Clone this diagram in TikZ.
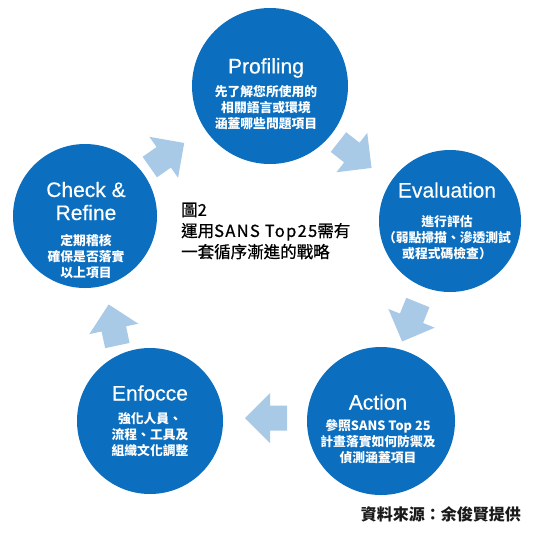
\documentclass[tikz,border=0pt]{standalone}
\usepackage{fontspec}
\setmainfont{Liberation Sans}
\newfontfamily\cjk{Noto Sans CJK TC}
\newfontfamily\cjkmid{Noto Sans CJK TC}[FakeBold=0.8]
\newfontfamily\ttlfont{Liberation Sans}[FakeBold=0.4]
\definecolor{stageblue}{HTML}{0B6EBE}
\definecolor{flowblue}{HTML}{A9CAE7}
\definecolor{inkdark}{HTML}{1A1A1A}
\newcommand\flowarrow[3]{\fill[flow, shift={(#1,#2)}, rotate=#3] (-21,-12.5) -- (-4,-12.5) -- (-4,-25) -- (21,0) -- (-4,25) -- (-4,12.5) -- (-21,12.5) -- cycle;}
\tikzset{
  stage/.style={circle, fill=stageblue, draw=none, inner sep=0pt, minimum size=#1},
  ttl/.style={text=white, align=center, inner sep=0pt, font=\ttlfont\fontsize{21}{23}\selectfont},
  desc/.style={text=white, align=center, inner sep=0pt, font=\cjk\bfseries\fontsize{12.8}{16}\selectfont},
  flow/.style={fill=flowblue, draw=none}
}
\begin{document}
\begin{tikzpicture}[x=1pt,y=1pt]
\fill[white] (0,0) rectangle (540,-536);
\useasboundingbox (0,0) rectangle (540,-536);
% stages
\node[stage=156] (prof) at (270,-86) {};
\node[stage=142] (eval) at (450,-221) {};
\node[stage=148] (act) at (381,-421) {};
\node[stage=146] (enf) at (150,-421) {};
\node[stage=144] (chk) at (85,-216) {};
% texts
\node[ttl] (profT) at (266,-68) {Profiling};
\node[desc] (profD) at (266,-108) {先了解您所使用的\\相關語言或環境\\涵蓋哪些問題項目};
\node[ttl] (evalT) at (447,-190) {Evaluation};
\node[desc] (evalD) at (447,-238) {進行評估\\（弱點掃描、滲透測試\\或程式碼檢查）};
\node[ttl] (actT) at (378,-402) {Action};
\node[desc] (actD) at (378,-442) {參照SANS Top 25\\計畫落實如何防禦及\\偵測涵蓋項目};
\node[ttl] (enfT) at (150,-393) {Enfocce};
\node[desc] (enfD) at (150,-435) {強化人員、\\流程、工具及\\組織文化調整};
\node[ttl] (chkT) at (86,-201) {Check \&\\Refine};
\node[desc] (chkD) at (86,-257) {定期稽核\\確保是否落實\\以上項目};
% flow arrows
\flowarrow{167}{-155}{35}
\flowarrow{355}{-155}{-38}
\flowarrow{410}{-322}{-112}
\flowarrow{266}{-418}{180}
\flowarrow{113}{-325}{102}
% caption
\node[anchor=west, align=left, inner sep=0pt, text=black, font=\cjkmid\fontsize{16.5}{21}\selectfont] (cap) at (181,-231) {圖2\\運用{\addfontfeature{LetterSpace=8}SANS Top25}需有\\一套循序漸進的戰略};
\node[anchor=east, inner sep=0pt, text=inkdark, font=\cjk\bfseries\fontsize{16}{20}\selectfont] (src) at (521,-514) {資料來源：余俊賢提供};
\end{tikzpicture}
\end{document}
